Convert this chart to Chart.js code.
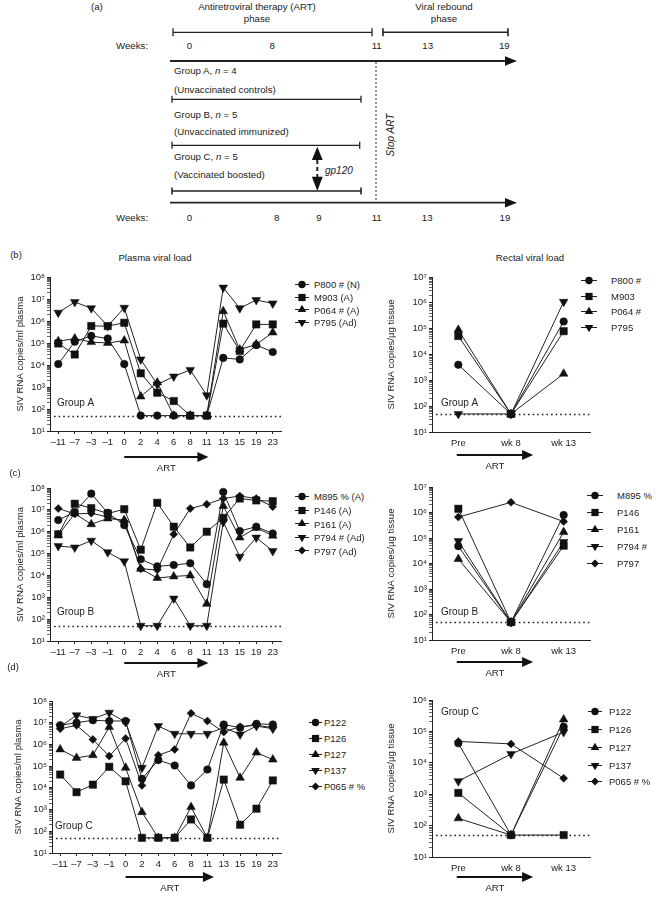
<!DOCTYPE html>
<html>
<head>
<meta charset="utf-8">
<script src="https://cdn.jsdelivr.net/npm/chart.js@4.4.1/dist/chart.umd.min.js"></script>
<style>
  body { margin: 0; background: #fff; }
  #page { position: relative; width: 658px; height: 897px; overflow: hidden; font-family: "Liberation Sans", Arial, sans-serif; color: #222; }
  canvas { position: absolute; }
  .lbl { position: absolute; font-size: 9.6px; white-space: nowrap; transform: translate(-50%, -50%); }
  .leg { position: absolute; font-size: 9.5px; white-space: nowrap; transform: translateY(-50%); }
  .leg svg { position: absolute; top: 0; }
</style>
</head>
<body>
<div id="page">
<svg width="658" height="230" style="position:absolute;left:0;top:0" font-family="'Liberation Sans', Arial, sans-serif" font-size="9.7" fill="#222">
  <text x="91" y="10">(a)</text>
  <text x="257" y="10" text-anchor="middle">Antiretroviral therapy (ART)</text>
  <text x="257" y="21.8" text-anchor="middle">phase</text>
  <text x="444" y="10" text-anchor="middle">Viral rebound</text>
  <text x="444" y="21.8" text-anchor="middle">phase</text>
  <g stroke="#222" fill="none" stroke-width="1.3">
    <path d="M173 28.3V36.3M173 32.3H372M372 28.3V36.3"/>
    <path d="M383 28.3V36.3M383 32.3H508M508 28.3V36.3" stroke-width="1.6"/>
    <path d="M172 95.8V102.8M172 99.3H361M361 95.8V102.8"/>
    <path d="M172 141.8V148.8M172 145.3H359.7M359.7 141.8V148.8"/>
    <path d="M172 187.5V194.5M172 191H361M361 187.5V194.5" stroke-width="1.6"/>
    <path d="M170 61H506M170 202.7H506" stroke-width="1.8"/>
    <path d="M376 62V203" stroke-dasharray="2 2" stroke-width="1"/>
    <path d="M317.3 160V177" stroke-dasharray="4 3" stroke-width="2"/>
  </g>
  <path d="M517 61L505 56.3L505 65.7Z M517 202.7L505 198L505 207.4Z" fill="#111"/>
  <path d="M317.3 146.7L311.9 160L322.7 160Z M317.3 191L311.9 176.7L322.7 176.7Z" fill="#111"/>
  <text x="116" y="49.4">Weeks:</text>
  <g text-anchor="middle">
    <text x="189.5" y="49.4">0</text><text x="272.3" y="49.4">8</text><text x="376.7" y="49.4">11</text>
    <text x="427.7" y="49.4">13</text><text x="504.3" y="49.4">19</text>
    <text x="189.5" y="220.7">0</text><text x="276.7" y="220.7">8</text><text x="319" y="220.7">9</text>
    <text x="376.7" y="220.7">11</text><text x="427.2" y="220.7">13</text><text x="504.9" y="220.7">19</text>
  </g>
  <text x="116" y="220.7">Weeks:</text>
  <text x="174" y="74.4">Group A, <tspan font-style="italic">n</tspan> = 4</text>
  <text x="174" y="92.7">(Unvaccinated controls)</text>
  <text x="174" y="117.7">Group B, <tspan font-style="italic">n</tspan> = 5</text>
  <text x="174" y="135">(Unvaccinated immunized)</text>
  <text x="174" y="160">Group C, <tspan font-style="italic">n</tspan> = 5</text>
  <text x="174" y="178.4">(Vaccinated boosted)</text>
  <text x="325" y="174" font-style="italic" font-size="10">gp120</text>
  <text transform="translate(393.7 135) rotate(-90)" text-anchor="middle" font-style="italic" font-size="10">Stop ART</text>
</svg>

<canvas id="plasmaA" width="300" height="210" style="left:0;top:268px"></canvas>
<canvas id="rectalA" width="220" height="210" style="left:380px;top:268px"></canvas>
<canvas id="plasmaB" width="300" height="209" style="left:0;top:479px"></canvas>
<canvas id="rectalB" width="220" height="209" style="left:380px;top:479px"></canvas>
<canvas id="plasmaC" width="300" height="205" style="left:0;top:692px"></canvas>
<canvas id="rectalC" width="220" height="205" style="left:380px;top:692px"></canvas>
</div>

<script>
// x categories
const weeks = ['–11', '–7', '–3', '–1', '0', '2', '4', '6', '8', '11', '13', '15', '19', '23'];
const rectalTimes = ['Pre', 'wk 8', 'wk 13'];
const lod = 50;

// Group A, plasma (copies/ml)
const aP800 = [1.1e4, 1.15e5, 2.1e5, 1.6e5, 1.1e4, 50, 50, 50, 50, 50, 2.1e4, 1.8e4, 8e4, 3.9e4];
const aM903 = [9.5e4, 3e4, 5.9e5, 5.9e5, 8.3e5, 4.2e3, 550, 230, 50, 50, 7.6e5, 4.4e4, 7e5, 7e5];
const aP064 = [1.2e5, 1.6e5, 1.1e5, 1e5, 1.3e5, 370, 1.6e3, 50, 50, 50, 2.8e6, 5e4, 8.7e4, 3e5];
const aP795 = [2.4e6, 7.3e6, 3.8e6, 5.9e5, 4e6, 1.8e4, 1.3e3, 3e3, 6e3, 420, 3.3e7, 3.8e6, 9e6, 6.3e6];
// Group A, rectal (copies/ug)
const aRP800 = [4e3, 50, 1.9e5];
const aRM903 = [5.2e4, 50, 8e4];
const aRP064 = [9e4, 50, 1.8e3];
const aRP795 = [50, 50, 1.1e6];

// Group B, plasma
const bM895 = [3.4e6, 8e6, 5.5e7, 7.3e6, 2e6, 5.5e4, 2.6e4, 3e4, 3.6e4, 4e3, 6.6e7, 1.07e6, 1.7e6, 8.3e5];
const bP146 = [7.6e5, 1.9e7, 1.2e7, 6.8e6, 1.07e7, 1.5e5, 2.1e7, 1.7e6, 1.9e5, 1e6, 4.3e6, 3.3e7, 2.7e7, 2.5e7];
const bP161 = [7e5, 6.8e6, 2.2e6, 4e6, 3.4e6, 2e4, 7.6e3, 9e3, 1e4, 500, 1.5e7, 5.4e5, 1.5e6, 6.6e5];
const bP794 = [2.2e5, 1.9e5, 3.9e5, 1.15e5, 4.4e4, 50, 50, 870, 50, 50, 2.8e6, 7.2e4, 5.4e5, 1.3e5];
const bP797 = [1.15e7, 6.5e6, 7e6, 4.8e6, 3e6, 2e4, 1.8e4, 7.6e5, 1.15e7, 1.8e7, 3.3e7, 4.3e7, 3.3e7, 1.4e7];
// Group B, rectal
const bRM895 = [4.8e4, 50, 8e5];
const bRP146 = [1.4e6, 50, 5e4];
const bRP161 = [1.5e4, 50, 1.7e5];
const bRP794 = [7.6e4, 50, 7e4];
const bRP797 = [6.6e5, 2.5e6, 4.4e5];

// Group C, plasma
const cP122 = [7.6e6, 1e7, 1.3e7, 1.2e7, 1.2e7, 2.6e4, 1.9e5, 1.07e5, 1.3e4, 7e4, 8.3e6, 5.9e6, 8.9e6, 8.3e6];
const cP126 = [4.1e4, 6.3e3, 1.4e4, 9.3e4, 2e4, 50, 50, 50, 350, 50, 2.4e4, 200, 1.1e3, 2.2e4];
const cP127 = [5.9e5, 2.4e5, 3.2e5, 6.3e6, 8.4e4, 760, 50, 50, 1.3e3, 50, 1.2e6, 2.9e4, 4.2e5, 2e5];
const cP137 = [6.6e6, 2.2e7, 1.5e7, 2.9e7, 1.07e7, 8.4e4, 7e6, 3.1e6, 3.1e6, 3.1e6, 5.9e6, 2.9e6, 7e6, 5.3e6];
const cP065 = [5.3e6, 7.6e6, 1.7e6, 2.9e5, 1.9e6, 1.3e4, 3.2e5, 5.9e5, 2.7e7, 1.2e7, 3.7e6, 6.6e6, 7.6e6, 5.9e6];
// Group C, rectal
const cRP122 = [4.2e4, 50, 1.4e5];
const cRP126 = [1.1e3, 50, 50];
const cRP127 = [170, 50, 2.4e5];
const cRP137 = [2.6e3, 1.9e4, 9.5e4];
const cRP065 = [4.8e4, 4e4, 3.2e3];

// legend names
const plasmaNamesA = ['P800 # (N)', 'M903 (A)', 'P064 # (A)', 'P795 (Ad)'];
const rectalNamesA = ['P800 #', 'M903', 'P064 #', 'P795'];
const plasmaNamesB = ['M895 % (A)', 'P146 (A)', 'P161 (A)', 'P794 # (Ad)', 'P797 (Ad)'];
const rectalNamesB = ['M895 %', 'P146', 'P161', 'P794 #', 'P797'];
const namesC = ['P122', 'P126', 'P127', 'P137', 'P065 # %'];
const shapeOrder = ['circle', 'square', 'up', 'down', 'diamond'];

Chart.defaults.font.family = '"Liberation Sans", Arial, sans-serif';
Chart.defaults.font.size = 9.5;
Chart.defaults.color = '#222';

const shapes = {
  circle: { pointStyle: 'circle', pointRadius: 3.8 },
  square: { pointStyle: 'rect', pointRadius: 5.2 },
  up: { pointStyle: 'triangle', pointRadius: 5 },
  down: { pointStyle: 'triangle', pointRadius: 5, pointRotation: 180 },
  diamond: { pointStyle: 'rectRot', pointRadius: 4 }
};

const SUP = ['⁰', '¹', '²', '³', '⁴', '⁵', '⁶', '⁷', '⁸', '⁹'];
const isDecade = v => Math.abs(Math.log10(v) - Math.round(Math.log10(v))) < 1e-9;

function logTicks(scale) {
  const t = [];
  const top = Math.round(Math.log10(scale.max));
  for (let e = Math.round(Math.log10(scale.min)); e < top; e++) {
    for (let m = 1; m < 10; m++) t.push({ value: m * Math.pow(10, e) });
  }
  t.push({ value: scale.max });
  scale.ticks = t;
}

// dotted detection limit, group name, ART arrow
const extras = {
  id: 'extras',
  beforeDatasetsDraw(chart, args, o) {
    const { ctx, chartArea: a, scales: { x, y } } = chart;
    ctx.save();
    ctx.strokeStyle = '#222';
    ctx.lineWidth = 1.6;
    ctx.setLineDash([1.6, 3]);
    const ly = Math.round(y.getPixelForValue(o.lod)) + 0.5;
    ctx.beginPath(); ctx.moveTo(a.left + 4, ly); ctx.lineTo(a.right, ly); ctx.stroke();
    ctx.setLineDash([]);

    ctx.fillStyle = '#222';
    ctx.font = '10px "Liberation Sans", Arial, sans-serif';
    ctx.textAlign = 'left';
    ctx.textBaseline = 'middle';
    ctx.fillText(o.group, a.left + o.groupDx, y.getPixelForValue(o.groupAt));

    const x0 = x.getPixelForValue(o.artFrom), x1 = x.getPixelForValue(o.artTo);
    const ay = a.bottom + o.artDy;
    ctx.fillStyle = '#111';
    ctx.strokeStyle = '#111';
    ctx.lineWidth = 2;
    ctx.beginPath(); ctx.moveTo(x0, ay); ctx.lineTo(x1 - 8, ay); ctx.stroke();
    ctx.beginPath(); ctx.moveTo(x1, ay); ctx.lineTo(x1 - 11, ay - 5); ctx.lineTo(x1 - 11, ay + 5); ctx.closePath(); ctx.fill();
    ctx.fillStyle = '#222';
    ctx.font = '9.6px "Liberation Sans", Arial, sans-serif';
    ctx.textAlign = 'center';
    ctx.fillText('ART', (x0 + x1) / 2, ay + 11);
    ctx.restore();
  }
};

function makeChart(id, labels, sets, o) {
  return new Chart(document.getElementById(id), {
    type: 'line',
    data: {
      labels,
      datasets: sets.map(([label, data, shape]) => Object.assign({
        label, data,
        borderColor: '#222', borderWidth: 1, backgroundColor: '#111',
        pointBackgroundColor: '#111', pointBorderColor: '#111', pointBorderWidth: 0.5,
        tension: 0, clip: 10
      }, shapes[shape]))
    },
    options: {
      responsive: false,
      animation: false,
      devicePixelRatio: 1,
      layout: { padding: o.pad },
      plugins: { legend: { display: false }, tooltip: { enabled: false }, extras: o.extras },
      scales: {
        x: {
          type: 'category',
          offset: true,
          afterFit: s => { s.height = 16; },
          grid: { drawOnChartArea: false, drawTicks: o.xTick > 0, tickLength: o.xTick, color: '#222' },
          border: { color: '#222', width: 1 },
          ticks: { padding: o.xPad, maxRotation: 0, autoSkip: false, color: '#222' }
        },
        y: {
          type: 'logarithmic',
          min: 10,
          max: o.yMax,
          afterFit: s => { s.width = o.yWidth; },
          afterBuildTicks: logTicks,
          grid: { drawOnChartArea: false, tickLength: 3, color: '#222', tickWidth: c => (c.tick && isDecade(c.tick.value)) ? 1 : 0.7 },
          border: { color: '#222', width: 1 },
          ticks: { autoSkip: false, padding: 2, color: '#222', callback: v => isDecade(v) ? '10' + SUP[Math.round(Math.log10(v))] : '' },
          title: { display: true, text: o.yTitle, padding: 0, color: '#222', font: { size: 9.6 } }
        }
      }
    },
    plugins: [extras]
  });
}

const pack = (names, arrays) => names.map((n, i) => [n, arrays[i], shapeOrder[i]]);
const plasmaTitle = 'SIV RNA copies/ml plasma';
const rectalTitle = 'SIV RNA copies/µg tissue';

makeChart('plasmaA', weeks, pack(plasmaNamesA, [aP800, aM903, aP064, aP795]), {
  pad: { left: 15, top: 9, right: 19, bottom: 31 }, yWidth: 35, yMax: 1e8, yTitle: plasmaTitle, xTick: 3, xPad: 3,
  extras: { lod, group: 'Group A', groupAt: 190, groupDx: 7, artFrom: 4, artTo: 9.1, artDy: 26 }
});
makeChart('rectalA', rectalTimes, pack(rectalNamesA, [aRP800, aRM903, aRP064, aRP795]), {
  pad: { left: 6, top: 9, right: 10, bottom: 30 }, yWidth: 46, yMax: 1e7, yTitle: rectalTitle, xTick: 0, xPad: 6,
  extras: { lod, group: 'Group A', groupAt: 130, groupDx: 9, artFrom: -0.03, artTo: 1.42, artDy: 23 }
});
makeChart('plasmaB', weeks, pack(plasmaNamesB, [bM895, bP146, bP161, bP794, bP797]), {
  pad: { left: 15, top: 9, right: 19, bottom: 31 }, yWidth: 35, yMax: 1e8, yTitle: plasmaTitle, xTick: 3, xPad: 3,
  extras: { lod, group: 'Group B', groupAt: 200, groupDx: 7, artFrom: 4, artTo: 9.1, artDy: 22 }
});
makeChart('rectalB', rectalTimes, pack(rectalNamesB, [bRM895, bRP146, bRP161, bRP794, bRP797]), {
  pad: { left: 6, top: 8, right: 10, bottom: 32 }, yWidth: 46, yMax: 1e7, yTitle: rectalTitle, xTick: 0, xPad: 6,
  extras: { lod, group: 'Group B', groupAt: 120, groupDx: 9, artFrom: -0.03, artTo: 1.42, artDy: 22 }
});
makeChart('plasmaC', weeks, pack(namesC, [cP122, cP126, cP127, cP137, cP065]), {
  pad: { left: 13, top: 9, right: 19, bottom: 28 }, yWidth: 39, yMax: 1e8, yTitle: plasmaTitle, xTick: 3, xPad: 3,
  extras: { lod, group: 'Group C', groupAt: 170, groupDx: 3, artFrom: 4, artTo: 9.4, artDy: 24 }
});
makeChart('rectalC', rectalTimes, pack(namesC, [cRP122, cRP126, cRP127, cRP137, cRP065]), {
  pad: { left: 6, top: 8, right: 10, bottom: 24 }, yWidth: 46, yMax: 1e6, yTitle: rectalTitle, xTick: 0, xPad: 6,
  extras: { lod, group: 'Group C', groupAt: 4.2e5, groupDx: 9, artFrom: -0.03, artTo: 1.42, artDy: 20 }
});

// HTML decorations: panel letters, titles, legends
const page = document.getElementById('page');
function label(text, x, y) {
  const d = document.createElement('div');
  d.className = 'lbl';
  d.textContent = text;
  d.style.left = x + 'px';
  d.style.top = y + 'px';
  page.appendChild(d);
}
label('(b)', 16, 254);
label('Plasma viral load', 155, 257);
label('Rectal viral load', 530, 257);
label('(c)', 15, 472);
label('(d)', 13, 666);

function markerSvg(shape, w) {
  const c = w / 2;
  let m;
  if (shape === 'circle') m = `<circle cx="${c}" cy="6" r="3.7"/>`;
  else if (shape === 'square') m = `<rect x="${c - 3.6}" y="2.4" width="7.2" height="7.2"/>`;
  else if (shape === 'up') m = `<path d="M${c} 1.2L${c + 4.3} 8.6L${c - 4.3} 8.6Z"/>`;
  else if (shape === 'down') m = `<path d="M${c} 10.8L${c + 4.3} 3.4L${c - 4.3} 3.4Z"/>`;
  else m = `<path d="M${c} 2L${c + 4} 6L${c} 10L${c - 4} 6Z"/>`;
  return `<svg width="${w}" height="12"><line x1="0" y1="6" x2="${w}" y2="6" stroke="#222" stroke-width="1"/><g fill="#111">${m}</g></svg>`;
}
function legend(names, lineX, lineW, textX, rows) {
  names.forEach((n, i) => {
    const d = document.createElement('div');
    d.className = 'leg';
    d.style.left = textX + 'px';
    d.style.top = rows[i] + 'px';
    d.textContent = n;
    const s = document.createElement('div');
    s.innerHTML = markerSvg(shapeOrder[i], lineW);
    const svg = s.firstChild;
    svg.style.left = (lineX - textX) + 'px';
    svg.style.top = '50%';
    svg.style.transform = 'translateY(-50%)';
    d.appendChild(svg);
    page.appendChild(d);
  });
}
legend(plasmaNamesA, 295, 14, 314, [284, 297, 309.5, 322]);
legend(rectalNamesA, 581, 16, 611, [280, 296, 311, 327]);
legend(plasmaNamesB, 295, 14, 314, [496, 510, 523.5, 537, 550.5]);
legend(rectalNamesB, 587, 16, 617, [495, 512, 529, 546, 563]);
legend(namesC, 309, 13, 324, [722, 738, 754, 770, 786]);
legend(namesC, 588, 14, 609, [711, 729, 747, 765, 781]);
</script>
</body>
</html>
